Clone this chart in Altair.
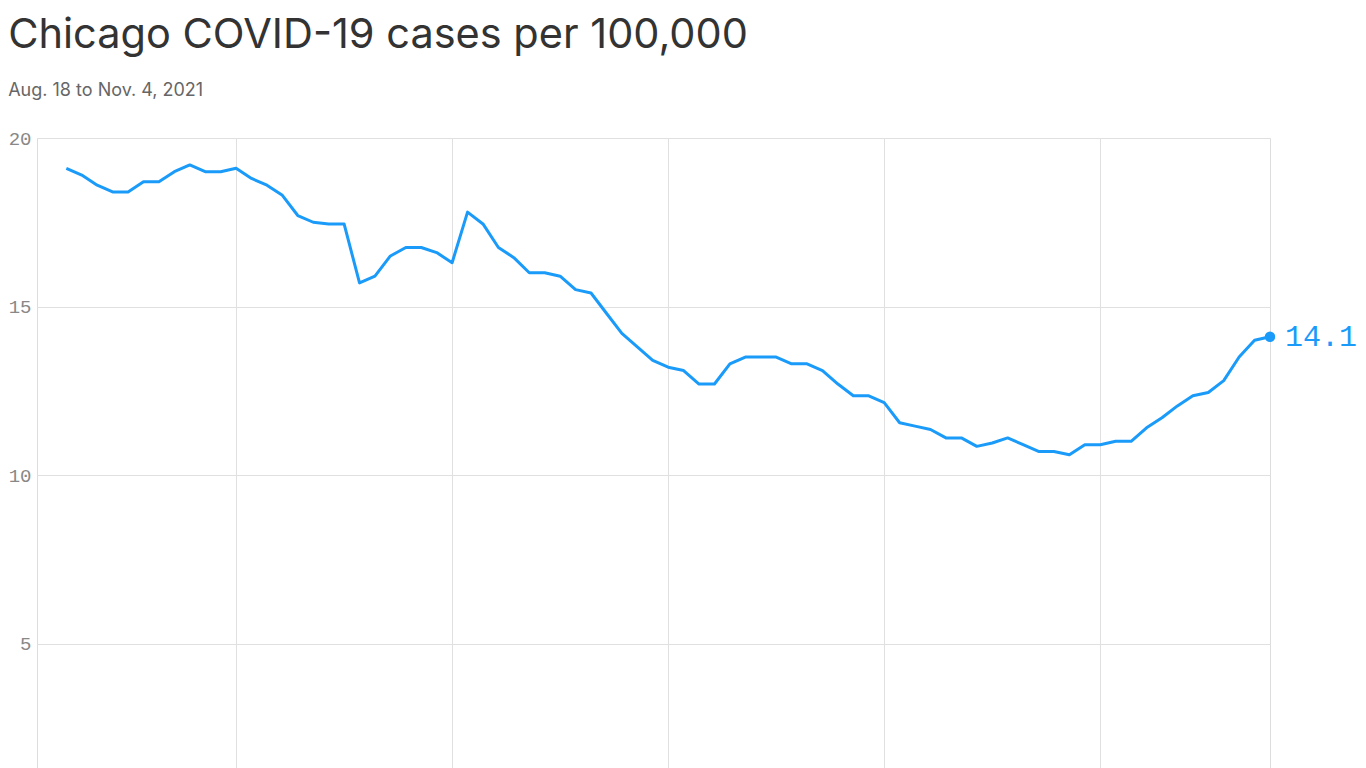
import altair as alt
import pandas as pd
from datetime import datetime, timezone, timedelta

# Daily cases per 100,000, Aug. 18 to Nov. 4, 2021
start_date = "2021-08-18"
cases = [
    19.1, 18.9, 18.6, 18.4, 18.4, 18.7, 18.7, 19.0, 19.2, 19.0,
    19.0, 19.1, 18.8, 18.6, 18.3, 17.7, 17.5, 17.45, 17.45, 15.7,
    15.9, 16.5, 16.75, 16.75, 16.6, 16.3, 17.8, 17.45, 16.75, 16.45,
    16.0, 16.0, 15.9, 15.5, 15.4, 14.8, 14.2, 13.8, 13.4, 13.2,
    13.1, 12.7, 12.7, 13.3, 13.5, 13.5, 13.5, 13.3, 13.3, 13.1,
    12.7, 12.35, 12.35, 12.15, 11.55, 11.45, 11.35, 11.1, 11.1, 10.85,
    10.95, 11.1, 10.9, 10.7, 10.7, 10.6, 10.9, 10.9, 11.0, 11.0,
    11.4, 11.7, 12.05, 12.35, 12.45, 12.8, 13.5, 14.0, 14.1,
]
last_label = ["14.1"]
grid_dates = ["2021-08-29", "2021-09-12", "2021-09-26", "2021-10-10", "2021-10-24"]
y_ticks = [5, 10, 15, 20]

dates = pd.date_range(start_date, periods=len(cases), freq="D").strftime("%Y-%m-%d").tolist()
df = pd.DataFrame({"date": dates, "value": cases})
last = pd.DataFrame({"date": [dates[-1]], "value": [cases[-1]], "label": last_label})


def ms(s, hours=0.0):
    d = datetime.strptime(s, "%Y-%m-%d").replace(tzinfo=timezone.utc) + timedelta(hours=hours)
    return int(d.timestamp() * 1000)


x_domain = [ms(start_date, -45.6), ms(dates[-1])]
grid_values = [ms(d) for d in grid_dates]

BLUE = "#1a9bfa"

x = alt.X(
    "date:T",
    scale=alt.Scale(type="utc", domain=x_domain),
    axis=alt.Axis(
        values=grid_values, title=None, grid=True, gridColor="#e0e0e0",
        domain=False, ticks=False, labels=False,
    ),
)
y = alt.Y(
    "value:Q",
    scale=alt.Scale(domain=[0, 20]),
    axis=alt.Axis(
        values=y_ticks, title=None, grid=True, gridColor="#e0e0e0",
        domain=False, ticks=False, labelPadding=6,
        labelFont="Liberation Mono", labelFontSize=19, labelColor="#888888",
    ),
)

line = alt.Chart(df).mark_line(color=BLUE, strokeWidth=3, strokeJoin="round").encode(x=x, y=y)
dot = alt.Chart(last).mark_circle(color=BLUE, size=110, opacity=1).encode(x=x, y=y)
label = alt.Chart(last).mark_text(
    color=BLUE, font="Liberation Mono", fontSize=30, align="left",
    baseline="middle", dx=15,
).encode(x=x, y=y, text="label:N")

chart = (
    alt.layer(line, dot, label)
    .properties(
        width=1233,
        height=674,
        padding={"top": 6, "left": 0, "right": 0, "bottom": 0},
        title=alt.TitleParams(
            text="Chicago COVID-19 cases per 100,000",
            subtitle="Aug. 18 to Nov. 4, 2021",
            anchor="start",
            frame="bounds",
            font="Inter",
            fontSize=41.5,
            fontWeight="normal",
            color="#333333",
            subtitleFont="Inter",
            subtitleFontSize=18,
            subtitleColor="#666666",
            subtitlePadding=26,
            offset=29,
        ),
    )
    .configure_view(stroke=None)
    .configure(background="white")
)

chart.save("out.html", embed_options={"renderer": "svg", "actions": False})
